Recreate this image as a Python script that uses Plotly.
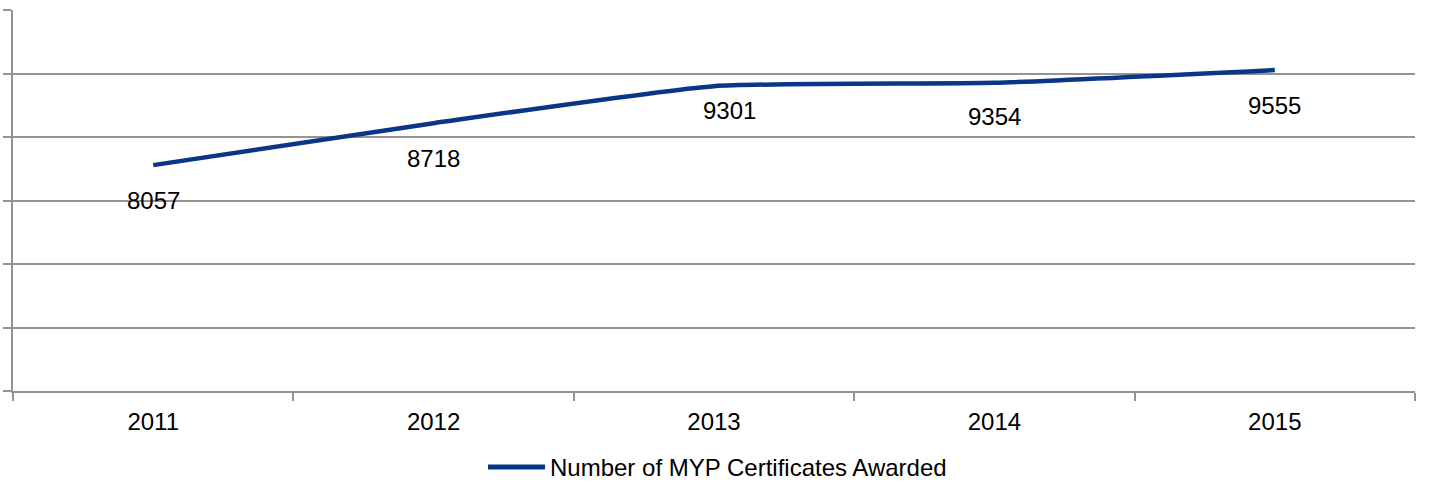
import plotly.graph_objects as go

years = ["2011", "2012", "2013", "2014", "2015"]
certificates = [8057, 8718, 9301, 9354, 9555]
series_name = "Number of MYP Certificates Awarded"

# label placement offsets in pixels (styling, as in the reference)
label_dx = [0, 0, 15, 0, 0]
label_dy = [-35, -35, -24, -34, -35]

LINE_COLOR = "#0b3688"
GRID = "#939393"
FONT = "Arial, Liberation Sans, sans-serif"
FS = 24

fig = go.Figure()
fig.add_trace(go.Scatter(
    x=years, y=certificates, mode="lines", name=series_name,
    line=dict(color=LINE_COLOR, width=4.5, shape="spline", smoothing=0.5),
    hoverinfo="x+y", showlegend=False,
))

for i, v in enumerate(certificates):
    fig.add_annotation(x=i, y=v, xref="x", yref="y", text=str(v), showarrow=False,
                       xshift=label_dx[i], yshift=label_dy[i],
                       font=dict(size=FS, color="#000000", family=FONT))

# legend drawn manually (long line sample as in reference)
fig.add_shape(type="line", xref="paper", yref="paper",
              x0=0.3388, x1=0.3795, y0=-0.1995, y1=-0.1995,
              line=dict(color=LINE_COLOR, width=5))
fig.add_annotation(xref="paper", yref="paper", x=0.3816, y=-0.1995,
                   xanchor="left", yanchor="middle", text=series_name, showarrow=False,
                   font=dict(size=FS, color="#000000", family=FONT))

fig.update_layout(
    width=1429, height=483,
    margin=dict(l=13, r=14, t=10, b=92, autoexpand=False),
    paper_bgcolor="white", plot_bgcolor="white",
    font=dict(family=FONT, color="#000000", size=FS),
    showlegend=False,
)
fig.update_xaxes(
    type="category", range=[-0.5, 4.5], tickson="boundaries", automargin=False,
    ticks="outside", ticklen=8, tickwidth=2, tickcolor=GRID, ticklabelstandoff=8,
    showline=True, linecolor=GRID, linewidth=2, showgrid=False,
    tickfont=dict(size=FS, family=FONT, color="#000000"),
)
fig.update_yaxes(
    range=[4500, 10500], tick0=4500, dtick=1000, automargin=False,
    showticklabels=False, ticks="outside", ticklen=8, tickwidth=2, tickcolor=GRID,
    showline=True, linecolor=GRID, linewidth=2,
    showgrid=True, gridcolor=GRID, gridwidth=2, zeroline=False,
)

fig.write_html("out.html", config={"displayModeBar": False},
               post_script="document.body.style.margin='0';document.body.style.overflow='hidden';")
